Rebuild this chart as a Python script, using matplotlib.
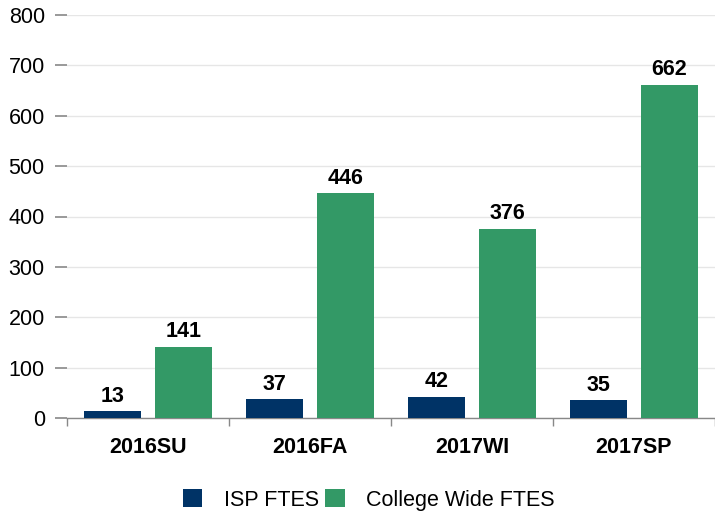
import matplotlib
matplotlib.use("Agg")
import matplotlib.pyplot as plt
import numpy as np
from matplotlib.patches import Patch

categories = ["2016SU", "2016FA", "2017WI", "2017SP"]
isp_ftes = [13, 37, 42, 35]
college_ftes = [141, 446, 376, 662]
series_names = ["ISP FTES", "College Wide FTES"]
yticks = [0, 100, 200, 300, 400, 500, 600, 700, 800]

navy = "#003366"
green = "#339966"
plt.rcParams['font.family'] = ['Liberation Sans', 'DejaVu Sans']
FS = 15.5

fig = plt.figure(figsize=(7.15, 5.20), dpi=100)
ax = fig.add_axes([67/715, 102/520, 648/715, 403/520])

x = np.arange(len(categories))
w = 0.35
off = 0.217
b1 = ax.bar(x - off, isp_ftes, w, color=navy, zorder=3)
b2 = ax.bar(x + off, college_ftes, w, color=green, zorder=3)

for bars, vals in ((b1, isp_ftes), (b2, college_ftes)):
    for r, v in zip(bars, vals):
        ax.text(r.get_x() + r.get_width()/2, v + 9, str(v), ha='center', va='bottom',
                fontsize=FS, fontweight='bold', color='black')

ax.set_xlim(-0.5, 3.5)
ax.set_ylim(0, 800)
ax.set_yticks(yticks)
ax.set_yticklabels([str(t) for t in yticks], fontsize=FS)
ax.yaxis.grid(True, color='#e6e6e6', linewidth=1, zorder=0)
ax.set_axisbelow(True)
ax.tick_params(axis='y', length=9, width=1.2, color='#888888', pad=7, direction='out')

ax.set_xticks(x)
ax.set_xticklabels(categories, fontsize=FS, fontweight='bold')
ax.set_xticks(np.arange(-0.5, 4.0, 1.0), minor=True)
ax.tick_params(axis='x', which='major', length=0, pad=14)
ax.tick_params(axis='x', which='minor', length=6, width=1, color='#888888')

for s in ('top', 'right', 'left'):
    ax.spines[s].set_visible(False)
ax.spines['bottom'].set_color('#888888')
ax.spines['bottom'].set_linewidth(1)

handles = [Patch(facecolor=navy), Patch(facecolor=green)]
fig.legend(handles, series_names, loc='center', bbox_to_anchor=(369/715, 1 - 500/520),
           ncol=2, frameon=False, fontsize=FS, handlelength=0.9, handleheight=0.9,
           handletextpad=1.0, columnspacing=0.3)

fig.savefig("out.png", dpi=100)
